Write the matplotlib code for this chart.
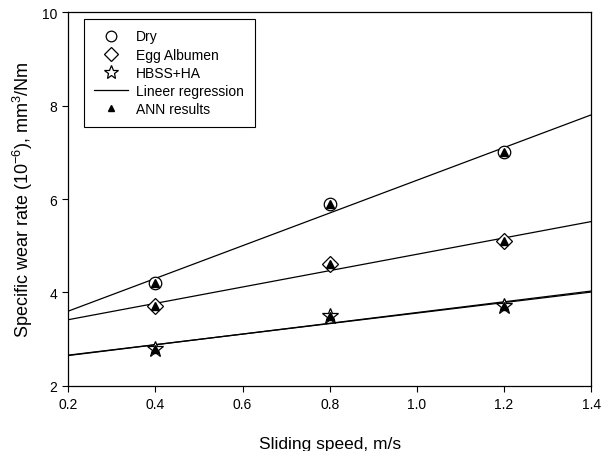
import matplotlib
matplotlib.use('Agg')
import matplotlib.pyplot as plt
import numpy as np

plt.rcParams['font.family'] = ['Liberation Sans', 'DejaVu Sans']
plt.rcParams['mathtext.fontset'] = 'custom'
plt.rcParams['mathtext.rm'] = 'Liberation Sans'

# Data
speed = np.array([0.4, 0.8, 1.2])
dry = np.array([4.2, 5.9, 7.0])
egg = np.array([3.7, 4.6, 5.1])
hbss = np.array([2.8, 3.5, 3.7])
ann_dry = np.array([4.2, 5.9, 7.0])
ann_egg = np.array([3.7, 4.6, 5.1])
ann_hbss = np.array([2.8, 3.5, 3.72])

fig = plt.figure(figsize=(6.01, 4.52), dpi=100)
ax = fig.add_axes([0.1135, 0.144, 0.870, 0.827])

# regression lines over full x range
xfit = np.array([0.2, 1.4])
for y in (dry, egg, hbss, ann_hbss):
    k, b = np.polyfit(speed, y, 1)
    ax.plot(xfit, k * xfit + b, color='black', linewidth=0.9)

ax.plot(speed, dry, 'o', mfc='white', mec='black', ms=9, mew=0.9, label='Dry')
ax.plot(speed, egg, 'D', mfc='white', mec='black', ms=8, mew=0.9, label='Egg Albumen')
ax.plot(speed, hbss, '*', mfc='white', mec='black', ms=12, mew=0.9, label='HBSS+HA')
ax.plot([], [], color='black', linewidth=0.9, label='Lineer regression')
ax.plot(speed, ann_dry, '^', color='black', ms=5.5, label='ANN results')
ax.plot(speed, ann_egg, '^', color='black', ms=5.5)
ax.plot(speed, ann_hbss, '^', color='black', ms=5.5)

ax.set_xlim(0.2, 1.4)
ax.set_ylim(2, 10)
ax.set_xticks(np.arange(0.2, 1.41, 0.2))
ax.set_yticks([2, 4, 6, 8, 10])
ax.set_xticklabels(['0.2', '0.4', '0.6', '0.8', '1.0', '1.2', '1.4'])
ax.tick_params(direction='out', length=4, width=0.8, labelsize=10, pad=4)
ax.set_xlabel('Sliding speed, m/s', fontsize=12.5, labelpad=18)
ax.set_ylabel('Specific wear rate (10$^{\\mathrm{-6}}$), mm$^{\\mathrm{3}}$/Nm', fontsize=13, labelpad=5)
for s in ax.spines.values():
    s.set_linewidth(0.9)

leg = ax.legend(loc='upper left', bbox_to_anchor=(0.016, 1.0), fontsize=10,
                frameon=True, fancybox=False, edgecolor='black', framealpha=1,
                handlelength=2.45, labelspacing=0.3, borderpad=0.75,
                handletextpad=0.6, markerscale=0.85)
leg.get_frame().set_linewidth(0.8)

fig.savefig('out.png', dpi=100)
